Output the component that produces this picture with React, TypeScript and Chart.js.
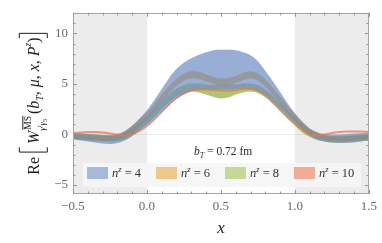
import React, { useEffect, useRef } from 'react';
import { Chart, registerables } from 'chart.js';
Chart.register(...registerables);

// ---------- data ----------
const xValues = [-0.5, -0.45, -0.4, -0.35, -0.3, -0.25, -0.2, -0.15, -0.1, -0.05, 0, 0.05, 0.1, 0.15, 0.2, 0.25, 0.3, 0.35, 0.4, 0.45, 0.5, 0.55, 0.6, 0.65, 0.7, 0.75, 0.8, 0.85, 0.9, 0.95, 1.0, 1.05, 1.1, 1.15, 1.2, 1.25, 1.3, 1.35, 1.4, 1.45, 1.5];

const n4Lo = [-0.45, -0.6, -0.7, -0.8, -0.9, -0.95, -0.85, -0.6, -0.15, 0.4, 0.9, 1.5, 2.2, 2.9, 3.5, 3.95, 4.25, 4.4, 4.45, 4.45, 4.45, 4.45, 4.5, 4.55, 4.5, 4.3, 3.9, 3.3, 2.6, 1.85, 1.1, 0.45, -0.1, -0.5, -0.7, -0.8, -0.85, -0.85, -0.8, -0.7, -0.55];
const n4Hi = [0.15, 0.1, 0.05, 0.0, -0.05, -0.05, 0.05, 0.35, 0.85, 1.6, 2.4, 3.4, 4.5, 5.6, 6.5, 7.1, 7.55, 7.9, 8.15, 8.35, 8.4, 8.4, 8.35, 8.15, 7.85, 7.25, 6.3, 5.3, 4.2, 3.1, 2.1, 1.25, 0.6, 0.2, 0.05, 0.0, 0.0, 0.05, 0.1, 0.15, 0.15];

const n6Lo = [-0.45, -0.5, -0.55, -0.6, -0.65, -0.65, -0.55, -0.3, 0.15, 0.8, 1.5, 2.35, 3.25, 4.1, 4.8, 5.3, 5.55, 5.5, 5.25, 5.0, 4.85, 4.9, 5.1, 5.4, 5.55, 5.35, 4.75, 3.95, 3.05, 2.15, 1.35, 0.55, -0.1, -0.35, -0.55, -0.65, -0.7, -0.65, -0.6, -0.55, -0.55];
const n6Hi = [0.05, 0.0, -0.05, -0.1, -0.15, -0.15, -0.05, 0.3, 0.85, 1.5, 2.2, 3.05, 3.95, 4.8, 5.5, 6.0, 6.25, 6.2, 5.95, 5.7, 5.55, 5.6, 5.8, 6.1, 6.25, 6.05, 5.45, 4.65, 3.75, 2.85, 2.05, 1.25, 0.6, 0.25, -0.05, -0.15, -0.2, -0.15, -0.1, -0.05, -0.05];

const n8Lo = [-0.45, -0.5, -0.55, -0.6, -0.65, -0.7, -0.65, -0.5, -0.15, 0.4, 1.0, 1.7, 2.5, 3.2, 3.75, 4.1, 4.25, 4.15, 3.95, 3.7, 3.55, 3.65, 3.95, 4.15, 4.25, 4.1, 3.65, 3.05, 2.3, 1.55, 0.85, 0.2, -0.25, -0.55, -0.7, -0.8, -0.8, -0.75, -0.7, -0.65, -0.65];
const n8Hi = [0.15, 0.1, 0.05, 0.0, -0.05, -0.1, -0.05, 0.2, 0.65, 1.2, 1.8, 2.5, 3.3, 4.0, 4.55, 4.9, 5.05, 5.05, 4.95, 4.9, 4.95, 4.95, 4.95, 5.05, 5.05, 4.9, 4.45, 3.85, 3.1, 2.35, 1.65, 1.0, 0.45, 0.15, -0.1, -0.2, -0.2, -0.15, -0.1, -0.05, -0.05];

const n10Lo = [0.02, 0.08, 0.13, 0.13, 0.08, 0.0, -0.1, -0.2, -0.05, 0.25, 0.7, 1.35, 2.1, 2.85, 3.5, 3.95, 4.25, 4.35, 4.35, 4.3, 4.25, 4.25, 4.3, 4.4, 4.4, 4.2, 3.75, 3.1, 2.35, 1.6, 0.95, 0.35, -0.05, -0.2, -0.1, 0.05, 0.15, 0.2, 0.2, 0.18, 0.15];
const n10Hi = [0.22, 0.28, 0.33, 0.33, 0.28, 0.2, 0.1, 0.0, 0.15, 0.45, 0.9, 1.55, 2.3, 3.05, 3.7, 4.15, 4.45, 4.55, 4.55, 4.5, 4.45, 4.45, 4.5, 4.6, 4.6, 4.4, 3.95, 3.3, 2.55, 1.8, 1.15, 0.55, 0.15, 0.0, 0.1, 0.25, 0.35, 0.4, 0.4, 0.38, 0.35];

const seriesNz = ['4', '6', '8', '10'];
const xTickValues = [-0.5, 0, 0.5, 1, 1.5];
const yTickValues = [-5, 0, 5, 10];
const bTValue = '0.72';
const bTUnit = 'fm';

// ---------- styling ----------
const SERIF = "'Liberation Serif', 'DejaVu Serif', serif";
const rm = (px: number) => `${px}px ${SERIF}`;
const it = (px: number) => `italic ${px}px ${SERIF}`;

const bandFill = ['rgba(110,140,195,0.7)', 'rgba(147,130,107,0.5)', 'rgba(150,185,80,0.8)', 'rgba(232,118,85,0.75)'];
const swatch = ['rgb(165,185,218)', 'rgb(236,200,140)', 'rgb(198,216,150)', 'rgb(240,172,150)'];

function fmtTick(v: number, digits: number) {
  const s = Math.abs(v).toFixed(digits);
  return v < -1e-9 ? '\u2212' + s : s;
}

function yTitle(ctx: CanvasRenderingContext2D, s: number, draw: boolean) {
  let x = 0;
  const put = (t: string, font: string, dy = 0) => {
    ctx.font = font;
    if (draw) ctx.fillText(t, x, dy);
    x += ctx.measureText(t).width;
  };
  put('Re', rm(s));
  x += s * 0.3;
  const bTop = -s * 1.2, bBot = s * 0.55;
  if (draw) {
    ctx.beginPath();
    ctx.moveTo(x + s * 0.3, bTop); ctx.lineTo(x, bTop); ctx.lineTo(x, bBot); ctx.lineTo(x + s * 0.3, bBot);
    ctx.stroke();
  }
  x += s * 0.5;
  put('W', it(s));
  const sx = x;
  // superscript MS with overline
  ctx.font = rm(s * 0.6);
  const msw = ctx.measureText('MS').width;
  if (draw) {
    ctx.fillText('MS', sx + 1, -s * 0.48);
    ctx.beginPath();
    ctx.moveTo(sx + 1, -s * 0.48 - s * 0.5); ctx.lineTo(sx + 1 + msw, -s * 0.48 - s * 0.5);
    ctx.stroke();
  }
  // subscript gamma^t gamma_5
  let subx = sx;
  const sub = (t: string, font: string, dy: number) => {
    ctx.font = font;
    if (draw) ctx.fillText(t, subx, dy);
    subx += ctx.measureText(t).width;
  };
  sub('\u03b3', it(s * 0.55), s * 0.38);
  sub('t', it(s * 0.4), s * 0.15);
  sub('\u03b3', it(s * 0.55), s * 0.38);
  sub('5', rm(s * 0.4), s * 0.5);
  x = Math.max(sx + 1 + msw, subx) + s * 0.12;
  put('(', rm(s));
  put('b', it(s));
  put('T', it(s * 0.6), s * 0.25);
  put(', ', rm(s));
  put('\u03bc', it(s));
  put(', ', rm(s));
  put('x', it(s));
  put(', ', rm(s));
  put('P', it(s));
  put('z', it(s * 0.6), -s * 0.45);
  put(')', rm(s));
  x += s * 0.25;
  if (draw) {
    ctx.beginPath();
    ctx.moveTo(x - s * 0.3, bTop); ctx.lineTo(x, bTop); ctx.lineTo(x, bBot); ctx.lineTo(x - s * 0.3, bBot);
    ctx.stroke();
  }
  return x;
}

const decor = {
  id: 'decor',
  beforeDatasetsDraw(chart: any) {
    const { ctx, chartArea: a, scales } = chart;
    const xs = scales.x, ys = scales.y;
    ctx.save();
    ctx.fillStyle = 'rgb(236,236,236)';
    const x0 = xs.getPixelForValue(0), x1 = xs.getPixelForValue(1);
    ctx.fillRect(a.left, a.top, x0 - a.left, a.bottom - a.top);
    ctx.fillRect(x1, a.top, a.right - x1, a.bottom - a.top);
    ctx.strokeStyle = 'rgba(0,0,0,0.07)';
    ctx.lineWidth = 1;
    const y0 = Math.round(ys.getPixelForValue(0)) + 0.5;
    ctx.beginPath(); ctx.moveTo(a.left, y0); ctx.lineTo(a.right, y0); ctx.stroke();
    ctx.restore();
  },
  afterDatasetsDraw(chart: any) {
    const { ctx, chartArea: a, scales } = chart;
    const xs = scales.x, ys = scales.y;
    ctx.save();
    // frame
    ctx.strokeStyle = 'rgb(165,165,165)';
    ctx.lineWidth = 1;
    ctx.strokeRect(Math.round(a.left) + 0.5, Math.round(a.top) + 0.5, Math.round(a.right - a.left) - 1, Math.round(a.bottom - a.top) - 1);
    // tick marks
    ctx.strokeStyle = 'rgb(150,150,150)';
    ctx.beginPath();
    for (let k = -5; k <= 15; k++) {
      const px = Math.round(xs.getPixelForValue(k / 10)) + 0.5;
      const len = k % 5 === 0 ? 4 : 2.5;
      ctx.moveTo(px, a.bottom); ctx.lineTo(px, a.bottom - len);
      ctx.moveTo(px, a.top); ctx.lineTo(px, a.top + len);
    }
    for (let v = -5; v <= 12; v++) {
      const py = Math.round(ys.getPixelForValue(v)) + 0.5;
      const len = v % 5 === 0 ? 4 : 2.5;
      ctx.moveTo(a.left, py); ctx.lineTo(a.left + len, py);
      ctx.moveTo(a.right, py); ctx.lineTo(a.right - len, py);
    }
    ctx.stroke();

    // b_T label
    ctx.fillStyle = 'rgb(40,40,40)';
    ctx.textBaseline = 'alphabetic';
    {
      let x = 194;
      const yb = 155;
      const put = (t: string, font: string, dy = 0) => { ctx.font = font; ctx.fillText(t, x, yb + dy); x += ctx.measureText(t).width; };
      put('b', it(11.5));
      put('T', it(8), 2.5);
      put(' = ' + bTValue + ' ' + bTUnit, rm(11.5));
    }

    // legend
    ctx.fillStyle = 'rgba(245,245,245,0.93)';
    ctx.fillRect(83, 163, 278, 24);
    const sw = [87, 156, 225, 294];
    seriesNz.forEach((n, i) => {
      ctx.fillStyle = swatch[i];
      ctx.fillRect(sw[i], 167, 21, 12);
      ctx.fillStyle = 'rgb(50,50,50)';
      let x = sw[i] + 25;
      const yb = 177;
      const put = (t: string, font: string, dy = 0) => { ctx.font = font; ctx.fillText(t, x, yb + dy); x += ctx.measureText(t).width; };
      put('n', it(12.5));
      put('z', it(8.5), -5);
      put(' = ' + n, rm(12.5));
    });
    ctx.restore();
  },
  afterDraw(chart: any) {
    const { ctx, chartArea: a } = chart;
    ctx.save();
    ctx.fillStyle = 'rgb(30,30,30)';
    ctx.strokeStyle = 'rgb(30,30,30)';
    ctx.lineWidth = 1;
    // x title
    ctx.font = it(17);
    ctx.textAlign = 'center';
    ctx.textBaseline = 'alphabetic';
    ctx.fillText('x', (a.left + a.right) / 2, 233);
    // y title
    ctx.textAlign = 'left';
    const s = 16;
    const L = yTitle(ctx, s, false);
    ctx.translate(38.5, 104 + L / 2);
    ctx.rotate(-Math.PI / 2);
    yTitle(ctx, s, true);
    ctx.restore();
  },
};

export default function App() {
  const ref = useRef<HTMLCanvasElement>(null);
  useEffect(() => {
    document.body.style.margin = '0';
    const canvas = ref.current!;
    const mk = (arr: number[]) => xValues.map((x, i) => ({ x, y: arr[i] }));
    const band = (lo: number[], hi: number[], color: string, order: number, label: string) => [
      { label: label + ' lo', data: mk(lo), borderWidth: 0, borderColor: 'rgba(0,0,0,0)', pointRadius: 0, fill: false, order, cubicInterpolationMode: 'monotone' },
      { label: label, data: mk(hi), borderWidth: 0, borderColor: 'rgba(0,0,0,0)', pointRadius: 0, fill: '-1', backgroundColor: color, order, cubicInterpolationMode: 'monotone' },
    ];
    const datasets = [
      ...band(n8Lo, n8Hi, bandFill[2], 4, 'n8'),
      ...band(n4Lo, n4Hi, bandFill[0], 3, 'n4'),
      ...band(n6Lo, n6Hi, bandFill[1], 2, 'n6'),
      ...band(n10Lo, n10Hi, bandFill[3], 1, 'n10'),
    ];
    const chart = new Chart(canvas, {
      type: 'line',
      data: { datasets: datasets as any },
      options: {
        animation: false,
        responsive: false,
        devicePixelRatio: 1,
        layout: { padding: { left: 0, right: 12, top: 11, bottom: 0 } },
        plugins: { legend: { display: false }, tooltip: { enabled: false } },
        elements: { line: { tension: 0 } },
        scales: {
          x: {
            type: 'linear',
            min: -0.5,
            max: 1.5,
            grid: { display: false, drawTicks: false, tickLength: 0 },
            border: { display: false },
            afterBuildTicks: (scale: any) => { scale.ticks = xTickValues.map((v) => ({ value: v })); },
            afterFit: (scale: any) => { scale.height = 49; },
            ticks: {
              autoSkip: false,
              maxRotation: 0,
              padding: 5,
              color: 'rgb(105,105,105)',
              font: { family: SERIF, size: 13 },
              callback: (v: any) => fmtTick(Number(v), 1),
            },
          },
          y: {
            type: 'linear',
            min: -5.9,
            max: 12.05,
            grid: { display: false, drawTicks: false, tickLength: 0 },
            border: { display: false },
            afterBuildTicks: (scale: any) => { scale.ticks = yTickValues.map((v) => ({ value: v })); },
            afterFit: (scale: any) => { scale.width = 73; },
            ticks: {
              padding: 5,
              color: 'rgb(105,105,105)',
              font: { family: SERIF, size: 13 },
              callback: (v: any) => fmtTick(Number(v), 0),
            },
          },
        },
      },
      plugins: [decor],
    });
    return () => chart.destroy();
  }, []);
  return (
    <div style={{ position: 'fixed', left: 0, top: 0, width: 382, height: 243, background: '#fff' }}>
      <canvas ref={ref} width={382} height={243} style={{ display: 'block' }} />
    </div>
  );
}
